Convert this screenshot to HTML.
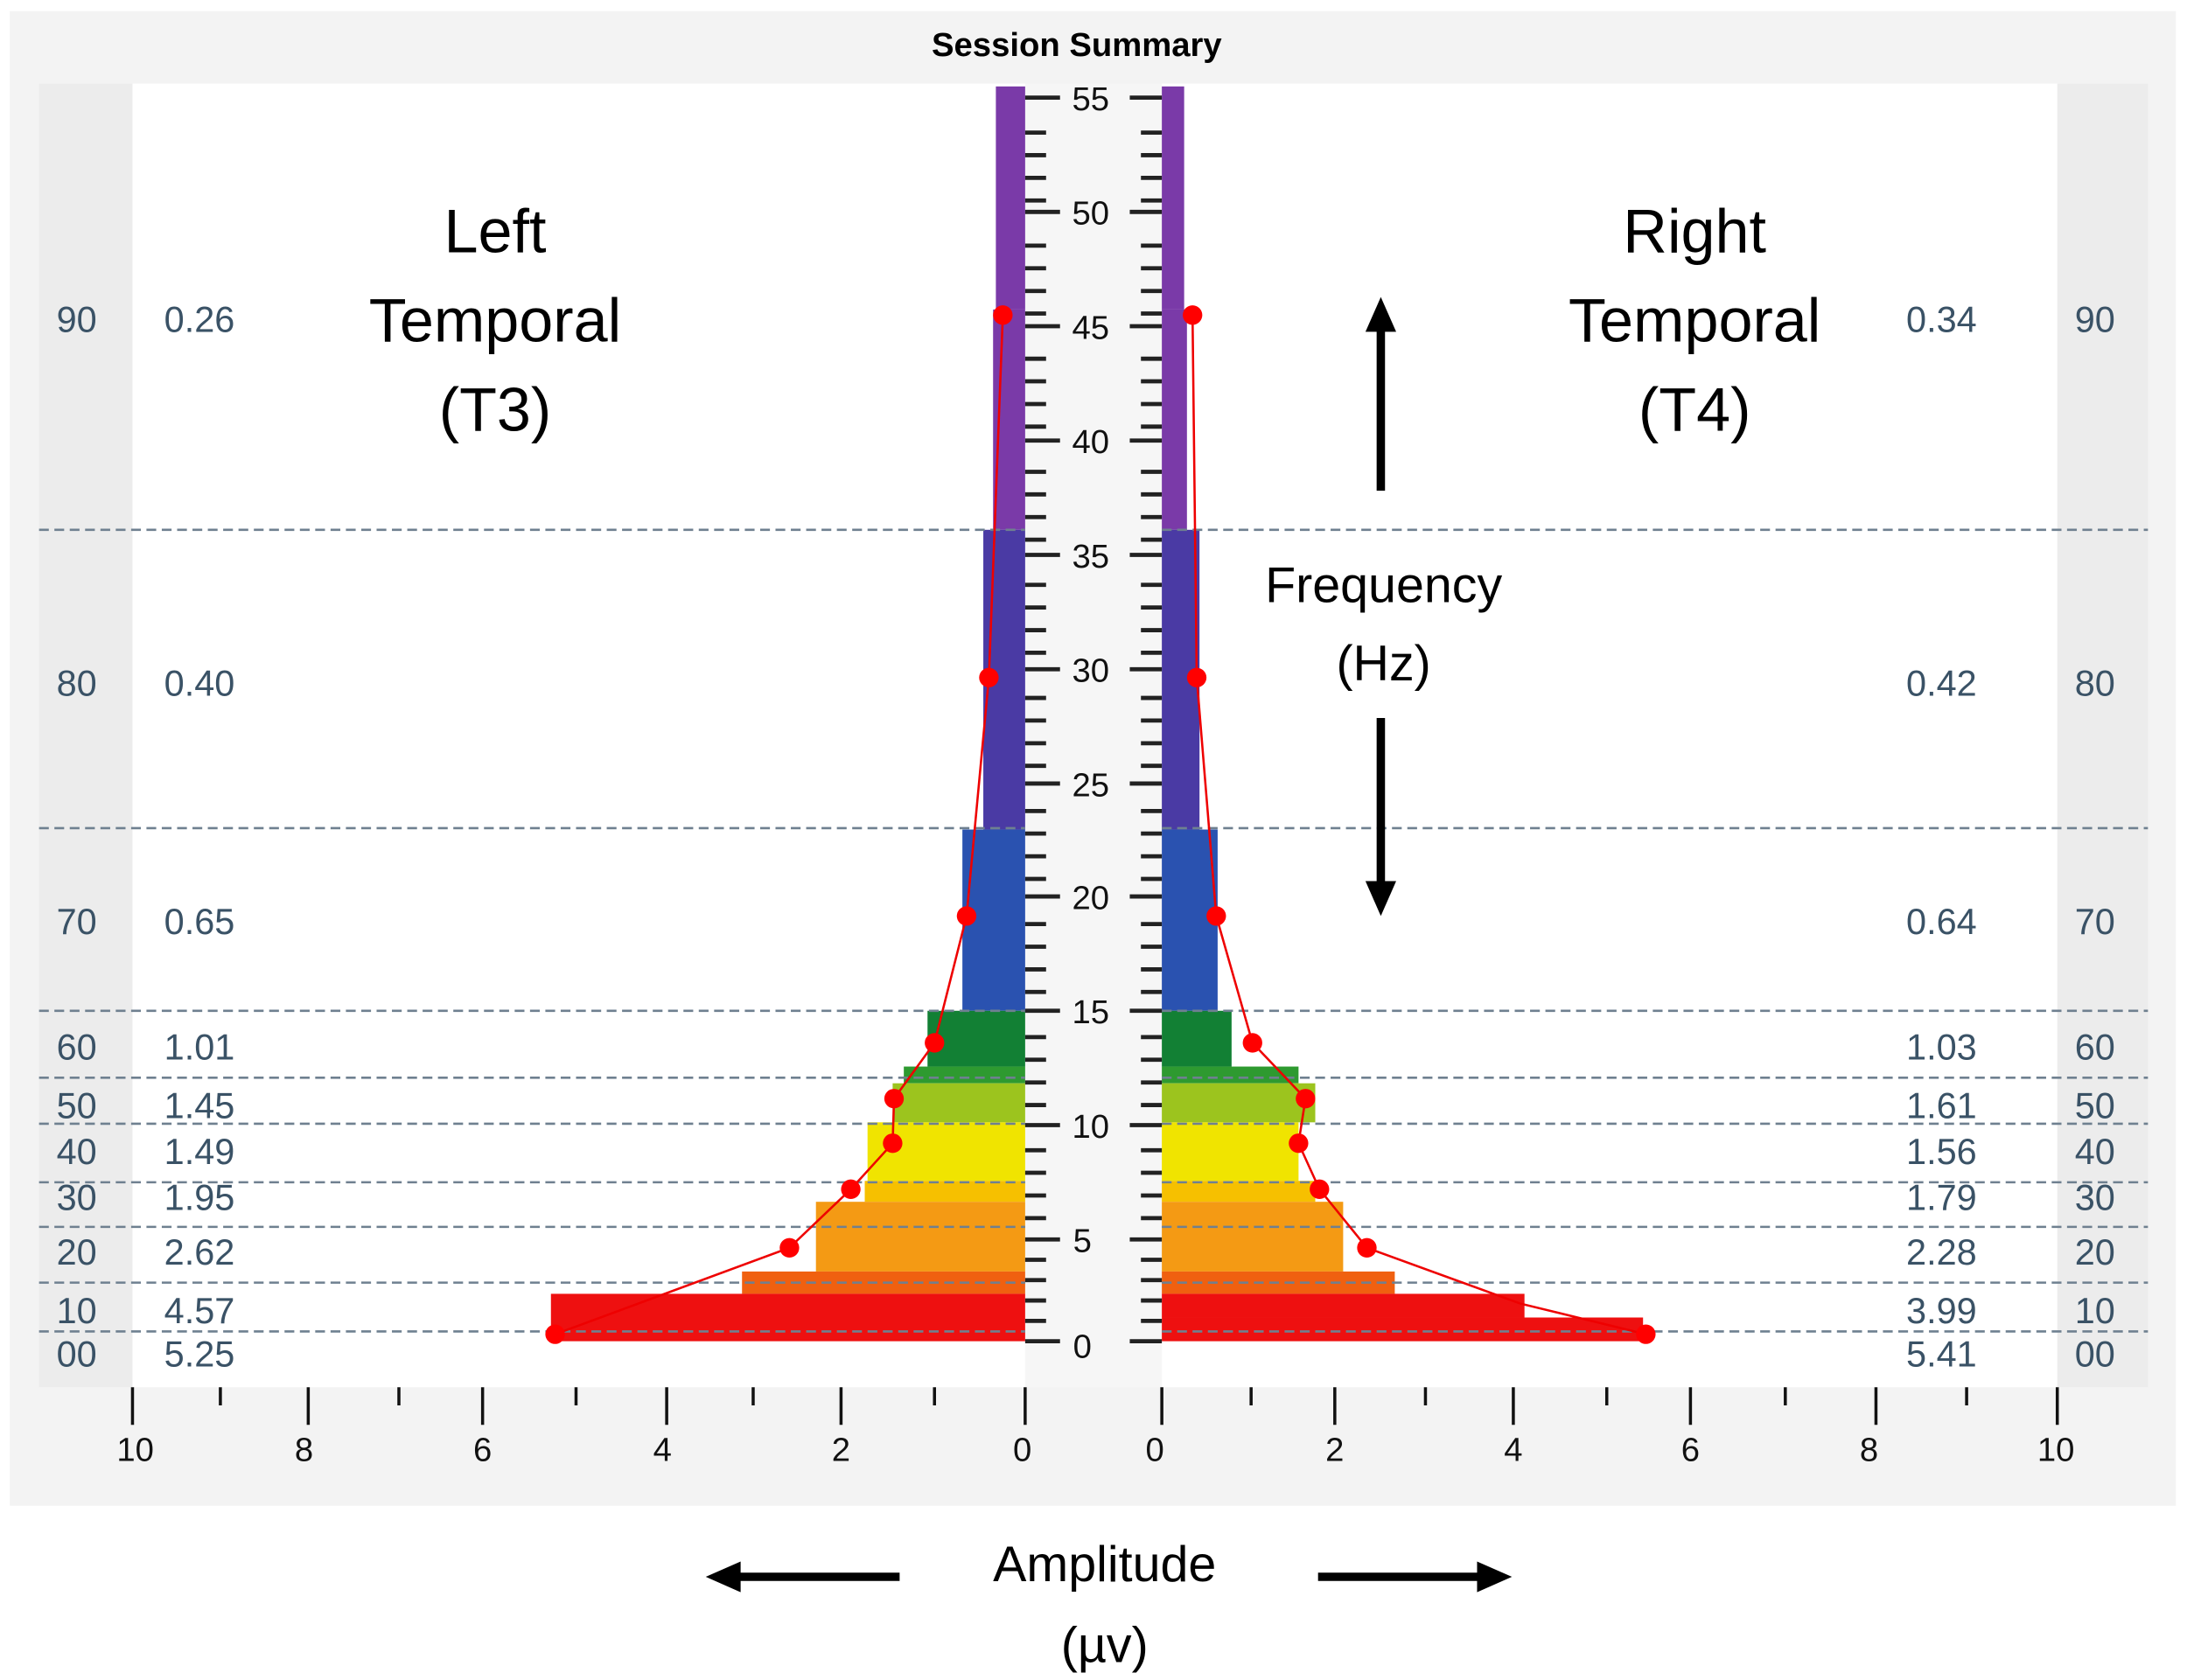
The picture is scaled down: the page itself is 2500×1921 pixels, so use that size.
<!DOCTYPE html>
<html><head><meta charset="utf-8"><style>html,body{margin:0;padding:0;background:#fff}svg{display:block}</style></head>
<body>
<svg width="2500" height="1921" viewBox="0 0 1568 1205" preserveAspectRatio="none" xmlns="http://www.w3.org/2000/svg" font-family="Liberation Sans, sans-serif">
<rect x="0" y="0" width="1568" height="1205" fill="#fff"/>
<rect x="7" y="8" width="1553" height="1072" fill="#f3f3f3"/>
<rect x="28" y="60" width="67" height="935" fill="#ececec"/>
<rect x="1475" y="60" width="65" height="935" fill="#ececec"/>
<rect x="95" y="60" width="640" height="935" fill="#fff"/>
<rect x="833" y="60" width="642" height="935" fill="#fff"/>
<rect x="735" y="60" width="98" height="935" fill="#f6f6f6"/>
<text x="772" y="40" text-anchor="middle" font-size="24" font-weight="bold">Session Summary</text>

<g>
<rect x="714" y="62" width="21" height="160" fill="#7a3aa8"/>
<rect x="712" y="222" width="23" height="158" fill="#7a3aa8"/>
<rect x="705" y="380" width="30" height="215" fill="#4a3aa4"/>
<rect x="690" y="595" width="45" height="130" fill="#2a52b0"/>
<rect x="665" y="725" width="70" height="40" fill="#128034"/>
<rect x="648" y="765" width="87" height="12" fill="#2e9a30"/>
<rect x="640" y="777" width="95" height="28" fill="#9cc41e"/>
<rect x="622" y="805" width="113" height="42" fill="#f0e400"/>
<rect x="620" y="847" width="115" height="15" fill="#f6c000"/>
<rect x="585" y="862" width="150" height="50" fill="#f49a14"/>
<rect x="532" y="912" width="203" height="16" fill="#f06010"/>
<rect x="395" y="928" width="340" height="34" fill="#ee1010"/>
</g>
<g>
<rect x="833" y="62" width="16" height="160" fill="#7a3aa8"/>
<rect x="833" y="222" width="18" height="158" fill="#7a3aa8"/>
<rect x="833" y="380" width="27" height="215" fill="#4a3aa4"/>
<rect x="833" y="595" width="40" height="130" fill="#2a52b0"/>
<rect x="833" y="725" width="50" height="40" fill="#128034"/>
<rect x="833" y="765" width="98" height="12" fill="#2e9a30"/>
<rect x="833" y="777" width="110" height="28" fill="#9cc41e"/>
<rect x="833" y="805" width="98" height="42" fill="#f0e400"/>
<rect x="833" y="847" width="110" height="15" fill="#f6c000"/>
<rect x="833" y="862" width="130" height="50" fill="#f49a14"/>
<rect x="833" y="912" width="167" height="16" fill="#f06010"/>
<rect x="833" y="928" width="260" height="17" fill="#ee1010"/>
<rect x="833" y="945" width="345" height="17" fill="#ee1010"/>
</g>

<g stroke="#6f8090" stroke-width="1.6" stroke-dasharray="7,4">
<path d="M28 380H735M833 380H1540M28 594H735M833 594H1540M28 725H735M833 725H1540M28 773H735M833 773H1540M28 806H735M833 806H1540M28 848H735M833 848H1540M28 880H735M833 880H1540M28 920H735M833 920H1540M28 955H735M833 955H1540"/>
</g>

<g fill="none" stroke="#e00" stroke-width="1.6">
<polyline points="398,957 566,895 610,853 640,820 641,788 670,748 693,657 709,486 719,226"/>
<polyline points="1180,957 1090,935 980,895 946,853 931,820 936,788 898,748 872,657 858,486 855,226"/>
</g>
<g fill="#f00">
<circle cx="398" cy="957" r="7"/><circle cx="566" cy="895" r="7"/><circle cx="610" cy="853" r="7"/><circle cx="640" cy="820" r="7"/><circle cx="641" cy="788" r="7"/><circle cx="670" cy="748" r="7"/><circle cx="693" cy="657" r="7"/><circle cx="709" cy="486" r="7"/><circle cx="719" cy="226" r="7"/>
<circle cx="1180" cy="957" r="7"/><circle cx="980" cy="895" r="7"/><circle cx="946" cy="853" r="7"/><circle cx="931" cy="820" r="7"/><circle cx="936" cy="788" r="7"/><circle cx="898" cy="748" r="7"/><circle cx="872" cy="657" r="7"/><circle cx="858" cy="486" r="7"/><circle cx="855" cy="226" r="7"/>
</g>

<g stroke="#222" stroke-width="3">
<path d="M735 70H760M735 152H760M735 234H760M735 316H760M735 398H760M735 480H760M735 562H760M735 643H760M735 725H760M735 807H760M735 889H760M735 962H760"/>
<path d="M833 70H810M833 152H810M833 234H810M833 316H810M833 398H810M833 480H810M833 562H810M833 643H810M833 725H810M833 807H810M833 889H810M833 962H810"/>
</g>
<g stroke="#222" stroke-width="3" id="minor"></g>
<g font-size="24" text-anchor="middle" fill="#111">
<text x="782" y="79">55</text><text x="782" y="161">50</text><text x="782" y="243">45</text><text x="782" y="325">40</text><text x="782" y="407">35</text><text x="782" y="489">30</text><text x="782" y="571">25</text><text x="782" y="652">20</text><text x="782" y="734">15</text><text x="782" y="816">10</text><text x="776" y="898">5</text><text x="776" y="974">0</text>
</g>

<g stroke="#111" stroke-width="2.2">
<path d="M95 995V1022M158 995V1008M221 995V1022M286 995V1008M346 995V1022M413 995V1008M478 995V1022M540 995V1008M603 995V1022M670 995V1008M735 995V1022"/>
<path d="M833 995V1022M897 995V1008M957 995V1022M1022 995V1008M1085 995V1022M1152 995V1008M1212 995V1022M1280 995V1008M1345 995V1022M1410 995V1008M1475 995V1022"/>
</g>
<g font-size="24" text-anchor="middle" fill="#111">
<text x="97" y="1048">10</text><text x="218" y="1048">8</text><text x="346" y="1048">6</text><text x="475" y="1048">4</text><text x="603" y="1048">2</text><text x="733" y="1048">0</text>
<text x="828" y="1048">0</text><text x="957" y="1048">2</text><text x="1085" y="1048">4</text><text x="1212" y="1048">6</text><text x="1340" y="1048">8</text><text x="1474" y="1048">10</text>
</g>

<g font-size="26" fill="#3a5266" text-anchor="middle" font-family="Liberation Sans Narrow, Liberation Sans, sans-serif">
<text x="55" y="238">90</text><text x="55" y="499">80</text><text x="55" y="670">70</text><text x="55" y="760">60</text><text x="55" y="802">50</text><text x="55" y="835">40</text><text x="55" y="868">30</text><text x="55" y="907">20</text><text x="55" y="949">10</text><text x="55" y="980">00</text>
<text x="143" y="238">0.26</text><text x="143" y="499">0.40</text><text x="143" y="670">0.65</text><text x="143" y="760">1.01</text><text x="143" y="802">1.45</text><text x="143" y="835">1.49</text><text x="143" y="868">1.95</text><text x="143" y="907">2.62</text><text x="143" y="949">4.57</text><text x="143" y="980">5.25</text>
<text x="1392" y="238">0.34</text><text x="1392" y="499">0.42</text><text x="1392" y="670">0.64</text><text x="1392" y="760">1.03</text><text x="1392" y="802">1.61</text><text x="1392" y="835">1.56</text><text x="1392" y="868">1.79</text><text x="1392" y="907">2.28</text><text x="1392" y="949">3.99</text><text x="1392" y="980">5.41</text>
<text x="1502" y="238">90</text><text x="1502" y="499">80</text><text x="1502" y="670">70</text><text x="1502" y="760">60</text><text x="1502" y="802">50</text><text x="1502" y="835">40</text><text x="1502" y="868">30</text><text x="1502" y="907">20</text><text x="1502" y="949">10</text><text x="1502" y="980">00</text>
</g>

<g font-size="44" text-anchor="middle" fill="#000">
<text x="355" y="181">Left</text><text x="355" y="245">Temporal</text><text x="355" y="309">(T3)</text>
<text x="1215" y="181">Right</text><text x="1215" y="245">Temporal</text><text x="1215" y="309">(T4)</text>
</g>
<g font-size="36" text-anchor="middle" fill="#000">
<text x="992" y="432">Frequency</text><text x="992" y="488">(Hz)</text>
<text x="792" y="1134">Amplitude</text><text x="792" y="1192">(µv)</text>
</g>
<g stroke="#000" stroke-width="6" fill="#000">
<line x1="990" y1="352" x2="990" y2="235"/>
<line x1="990" y1="515" x2="990" y2="635"/>
<line x1="645" y1="1131" x2="528" y2="1131"/>
<line x1="945" y1="1131" x2="1062" y2="1131"/>
</g>
<g fill="#000">
<polygon points="990,213 979,238 1001,238"/>
<polygon points="990,657 979,632 1001,632"/>
<polygon points="506,1131 531,1120 531,1142"/>
<polygon points="1084,1131 1059,1120 1059,1142"/>
</g>
<script>
var g=document.getElementById('minor'),d='';
for(var i=0;i<55;i++){if(i%5==0)continue;var y=971-16.22*i;if(i<5)y=962-(962-889)*i/5;d+='M735 '+y.toFixed(1)+'H750M833 '+y.toFixed(1)+'H818';}
var p=document.createElementNS('http://www.w3.org/2000/svg','path');p.setAttribute('d',d);g.appendChild(p);
</script>
</svg>
</body></html>
